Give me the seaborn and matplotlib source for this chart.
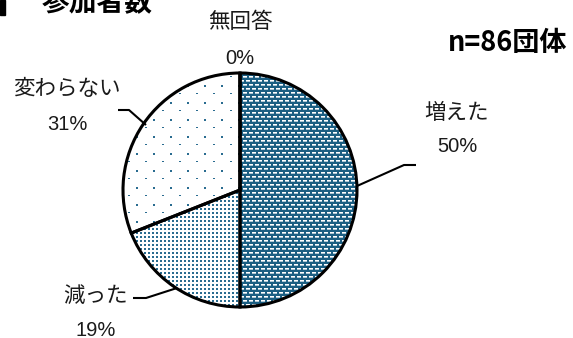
import numpy as np
import matplotlib
matplotlib.use("Agg")
import matplotlib.pyplot as plt
from matplotlib.patches import Rectangle
import seaborn as sns

# ---- data ----
categories = ["増えた", "減った", "変わらない", "無回答"]
values = [50, 19, 31, 0]
pct_labels = ["50%", "19%", "31%", "0%"]
title_text = "参加者数"
note_text = "n=86団体"

sns.set_theme(style="white")
plt.rcParams['font.family'] = ['Noto Sans CJK JP', 'DejaVu Sans']

W, H = 573, 338
fig = plt.figure(figsize=(W / 100, H / 100), dpi=100)
ax = fig.add_axes([0, 0, 1, 1])

cx, cy, r = 240, H - 190, 117
teal = "#1B5E82"
dot = "#2A6C90"

wedges, _ = ax.pie(values, startangle=90, counterclock=False, center=(cx, cy),
                   radius=r, colors=["white"] * 4,
                   wedgeprops=dict(edgecolor="none", linewidth=0), frame=True)
ax.set_xlim(0, W)
ax.set_ylim(0, H)
ax.set_aspect("auto")
ax.axis("off")

# ---- texture patterns (style only) ----
yy, xx = np.mgrid[0:H, 0:W]

def rgb(c):
    return np.array(matplotlib.colors.to_rgb(c))

def tex_increase():
    img = np.ones((H, W, 3)) * rgb(teal)
    shift = ((yy // 4) % 2) * 3
    on = ((xx + shift) % 6) < 4
    full = (yy % 4 == 0) & on
    half = (yy % 4 == 1) & on
    img[full] = [1, 1, 1]
    img[half] = 0.35 * rgb(teal) + 0.65 * np.ones(3)
    return img

def tex_decrease():
    img = np.ones((H, W, 3))
    m = ((xx % 4) < 2) & ((yy % 4) < 2)
    img[m] = rgb(dot)
    return img

def tex_same():
    img = np.ones((H, W, 3))
    m1 = ((yy % 17) < 2) & ((xx % 17) < 2)
    m2 = ((yy % 17) == 8) & (((xx + 8) % 17) < 2)
    img[m1 | m2] = rgb(dot)
    return img

textures = [tex_increase(), tex_decrease(), tex_same(), np.ones((H, W, 3))]
for w, t in zip(wedges, textures):
    im = ax.imshow(t, extent=(0, W, 0, H), origin="upper", interpolation="nearest", zorder=2)
    im.set_clip_path(w)

# outlines
ax.pie(values, startangle=90, counterclock=False, center=(cx, cy), radius=r,
       colors=["none"] * 4, frame=True,
       wedgeprops=dict(edgecolor="black", linewidth=2.2, zorder=3, fill=False))
ax.set_xlim(0, W)
ax.set_ylim(0, H)
ax.set_aspect("auto")
ax.axis("off")

# ---- labels ----
jp = dict(fontsize=15.5, color="#1a1a1a", ha="center", va="center",
          family=['Noto Sans CJK JP', 'DejaVu Sans'])
pc = dict(fontsize=14.5, color="#1a1a1a", ha="center", va="center",
          family=['Liberation Sans', 'DejaVu Sans'])

label_pos = [(457, 113), (95, 296), (67, 89), (240, 22)]
pct_pos = [(457, 147), (96, 330), (67, 124), (240, 58)]
for cat, p, lp, pp in zip(categories, pct_labels, label_pos, pct_pos):
    ax.text(lp[0], H - lp[1], cat, zorder=5, **jp)
    ax.text(pp[0], H - pp[1], p, zorder=5, **pc)

# leader lines
leaders = [
    [(357, 186), (404, 165), (416, 165)],
    [(177, 288), (146, 298), (133, 298)],
    [(146, 125), (129, 110), (118, 110)],
]
for pts in leaders:
    xs = [p[0] for p in pts]
    ys = [H - p[1] for p in pts]
    ax.plot(xs, ys, color="black", lw=1.5, zorder=4, solid_capstyle="butt")

# title & note
ax.add_patch(Rectangle((0, H - 15), 5, 15, color="black", zorder=5, clip_on=False))
ax.text(42, H - 3, title_text, fontsize=20, fontweight="bold", ha="left", va="center",
        color="black", family=['Noto Sans CJK JP', 'DejaVu Sans'], zorder=5)
ax.text(508, H - 43, note_text, fontsize=19.5, fontweight="bold", ha="center", va="center",
        color="black", family=['Noto Sans CJK JP', 'DejaVu Sans'], zorder=5)

fig.savefig("out.png", dpi=100)
